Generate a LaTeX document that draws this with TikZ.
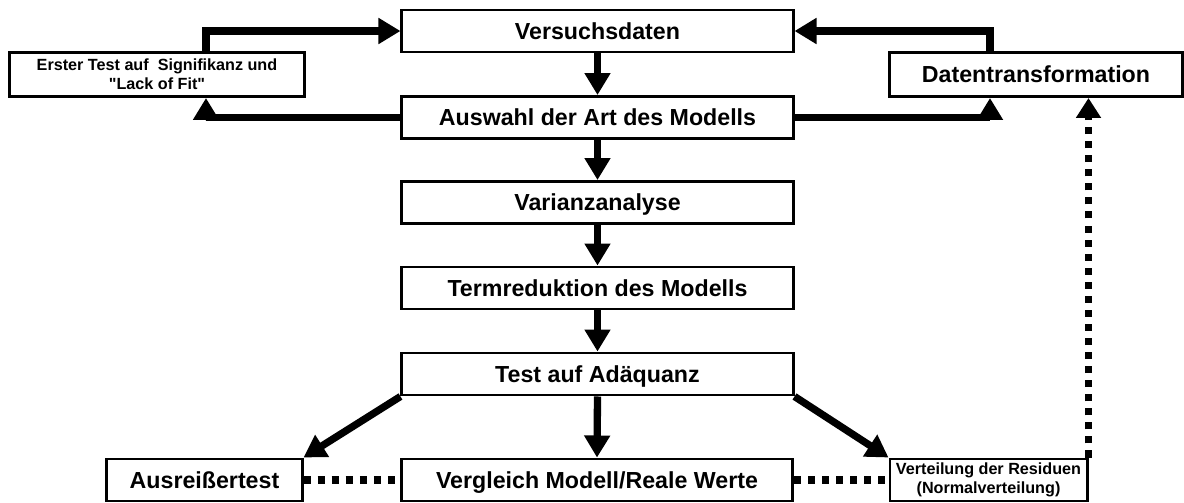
\documentclass[tikz,border=0pt]{standalone}
\usepackage{fontspec}
\setmainfont{Liberation Sans}
\usetikzlibrary{arrows.meta}
\tikzset{
  fcstage/.style={rectangle, draw, line width=2.1pt, fill=white,
                  minimum width=9.775cm, minimum height=1.05cm,
                  inner sep=0pt, text height=15pt, text depth=3.2pt,
                  font=\fontsize{16.5}{19}\selectfont\bfseries},
  fcside/.style={fcstage, minimum width=7.3cm, minimum height=1.1cm},
  fcsmall/.style={fcside, align=center, text height=, text depth=,
                  font=\fontsize{11.5}{13.5}\selectfont\bfseries},
  fcflow/.style={draw, line width=5.2pt,
                 -{Triangle[length=0.55cm, width=0.62cm]}},
  fccheck/.style={draw, line width=5pt, dash pattern=on 5pt off 5pt},
  fccheckflow/.style={fccheck, -{Triangle[length=0.5cm, width=0.6cm]}}
}
\begin{document}
\begin{tikzpicture}[
    x=0.025cm, y=-0.025cm
]
  \useasboundingbox (0,0) rectangle (1184,502);
  \foreach \name/\ypos/\txt in {data/31/Versuchsdaten,
      model/117.5/Auswahl der Art des Modells,
      variance/202.5/Varianzanalyse,
      reduction/288/Termreduktion des Modells,
      check/374/Test auf Adäquanz} {
    \node[fcstage] (\name) at (597.5, \ypos) {\txt};
  }
  \foreach \a/\b in {data/model, model/variance, variance/reduction,
      reduction/check} {
    \draw[fcflow] (\a) -- (\b);
  }
  \node[fcsmall, minimum width=7.35cm] (first) at (157, 74.5)
    {Erster Test auf\ \ Signifikanz und\\\textquotedbl Lack of Fit\textquotedbl};
  \node[fcside] (trans) at (1036, 74.5) {Datentransformation};
  % Feedback loops on both sides of the model choice
  \coordinate (leftrail) at (206, 0);
  \coordinate (rightrail) at (990, 0);
  \draw[fcflow] (first.north -| leftrail) |- (data.west);
  \draw[fcflow] (model.west) -| (first.south -| leftrail);
  \draw[fcflow] (trans.north -| rightrail) |- (data.east);
  \draw[fcflow] (model.east) -| (trans.south -| rightrail);

  \node[fcstage, minimum width=4.875cm] (outlier) at (204.5, 480)
    {Ausreißertest};
  \node[fcstage] (compare) at (597, 480) {Vergleich Modell/Reale Werte};
  \node[fcsmall, minimum width=4.925cm, minimum height=1.05cm] (resid)
    at (988.5, 480) {Verteilung der Residuen\\(Normalverteilung)};
  \draw[fcflow] (check.south west) -- (outlier.north east);
  \draw[fcflow] (check.south) -- (compare.north);
  \draw[fcflow] (check.south east) -- (resid.north west);
  \draw[fccheck] (outlier.east) -- (compare.west);
  \draw[fccheck] (compare.east) -- (resid.west);
  \draw[fccheckflow] (resid.north east) -- (trans.south -| resid.north east);
\end{tikzpicture}
\end{document}
